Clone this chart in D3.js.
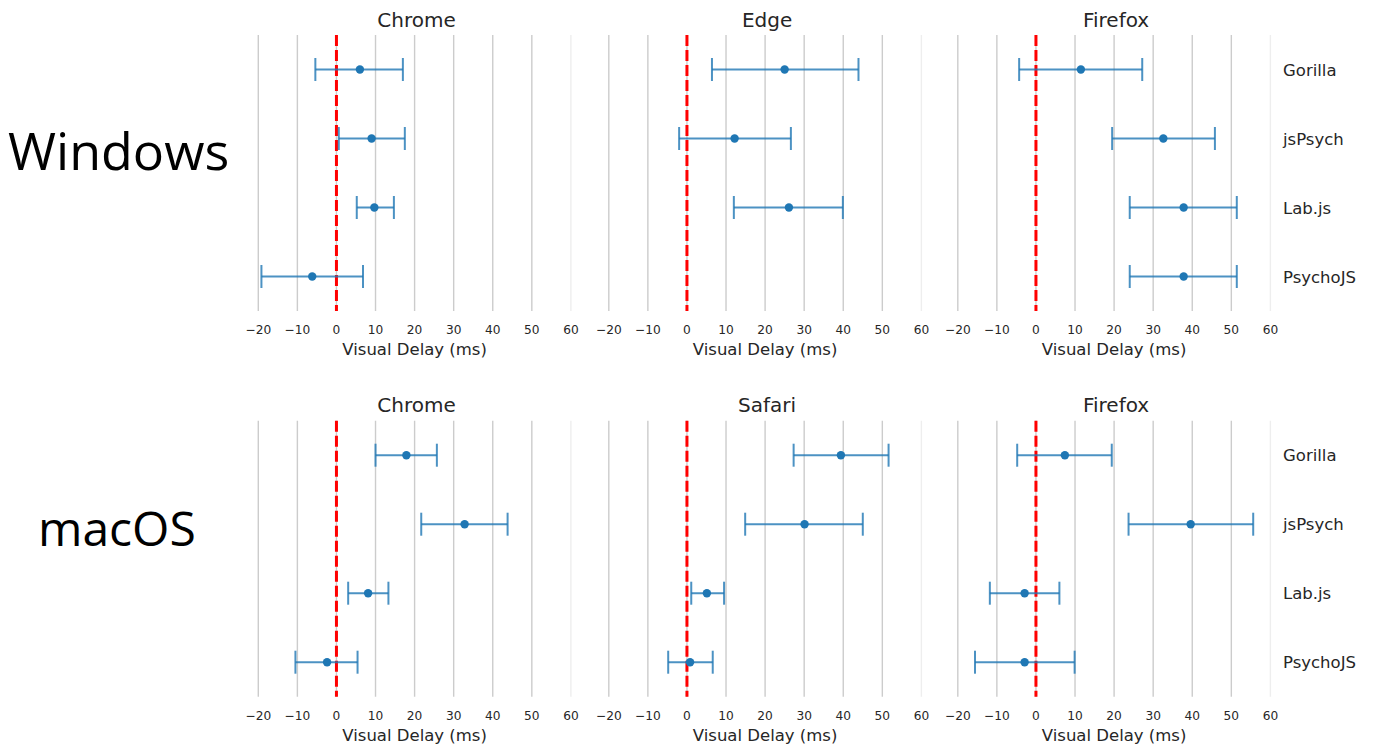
<!DOCTYPE html>
<html>
<head>
<meta charset="utf-8">
<script src="https://cdn.jsdelivr.net/npm/d3@7"></script>
<style>
  body { margin: 0; background: #fff; }
  svg { display: block; }
</style>
</head>
<body>
<svg id="chart" width="1376" height="747"></svg>
<script>
// tools, one row per panel
var tools = ['Gorilla', 'jsPsych', 'Lab.js', 'PsychoJS']
var xTicks = [-20, -10, 0, 10, 20, 30, 40, 50, 60]
var osNames = ['Windows', 'macOS']
var winBrowsers = ['Chrome', 'Edge', 'Firefox']
var macBrowsers = ['Chrome', 'Safari', 'Firefox']

// point estimate and interval ends (ms); null = not tested
var winChromeMean = [6.0, 9.0, 9.7, -6.2]
var winChromeLow = [-5.4, 0.6, 5.2, -19.2]
var winChromeHigh = [17.0, 17.5, 14.7, 6.8]

var winEdgeMean = [25.0, 12.2, 26.1, null]
var winEdgeLow = [6.4, -2.0, 12.0, null]
var winEdgeHigh = [43.9, 26.6, 39.9, null]

var winFirefoxMean = [11.5, 32.6, 37.8, 37.8]
var winFirefoxLow = [-4.3, 19.5, 24.0, 24.0]
var winFirefoxHigh = [27.2, 45.8, 51.4, 51.4]

var macChromeMean = [17.9, 32.8, 8.1, -2.4]
var macChromeLow = [10.0, 21.7, 3.0, -10.5]
var macChromeHigh = [25.7, 43.8, 13.3, 5.4]

var macSafariMean = [39.4, 30.1, 5.1, 0.8]
var macSafariLow = [27.3, 14.9, 1.1, -4.8]
var macSafariHigh = [51.6, 45.0, 9.5, 6.6]

var macFirefoxMean = [7.4, 39.6, -2.9, -2.9]
var macFirefoxLow = [-4.8, 23.7, -11.8, -15.6]
var macFirefoxHigh = [19.4, 55.6, 6.0, 9.9]

var panels = [
  { row: 0, col: 0, title: winBrowsers[0], mean: winChromeMean, low: winChromeLow, high: winChromeHigh },
  { row: 0, col: 1, title: winBrowsers[1], mean: winEdgeMean, low: winEdgeLow, high: winEdgeHigh },
  { row: 0, col: 2, title: winBrowsers[2], mean: winFirefoxMean, low: winFirefoxLow, high: winFirefoxHigh },
  { row: 1, col: 0, title: macBrowsers[0], mean: macChromeMean, low: macChromeLow, high: macChromeHigh },
  { row: 1, col: 1, title: macBrowsers[1], mean: macSafariMean, low: macSafariLow, high: macSafariHigh },
  { row: 1, col: 2, title: macBrowsers[2], mean: macFirefoxMean, low: macFirefoxLow, high: macFirefoxHigh }
]

var colLeft = [258.3, 608.8, 957.8]
var panelWidth = 312.6
var rowTop = [35, 420.7]
var panelHeight = 276
var textColor = '#262626'
var blue = '#1f77b4'
var font = 'DejaVu Sans, sans-serif'

var svg = d3.select('#chart')

// big OS labels on the left
svg.append('text')
  .attr('x', 8).attr('y', 170)
  .attr('font-family', 'Open Sans, sans-serif')
  .attr('font-size', 52)
  .attr('fill', '#000')
  .text(osNames[0])
svg.append('text')
  .attr('x', 38).attr('y', 546)
  .attr('font-family', 'Open Sans, sans-serif')
  .attr('font-size', 48)
  .attr('fill', '#000')
  .text(osNames[1])

panels.forEach(function (p) {
  var x0 = colLeft[p.col]
  var y0 = rowTop[p.row]
  var x = d3.scaleLinear().domain([-20, 60]).range([x0, x0 + panelWidth])
  var y = d3.scalePoint().domain(tools).range([y0, y0 + panelHeight]).padding(0.5)
  var g = svg.append('g').attr('class', 'panel')

  // vertical grid
  g.selectAll('.grid').data(xTicks).enter().append('line')
    .attr('class', 'grid')
    .attr('x1', function (d) { return x(d) })
    .attr('x2', function (d) { return x(d) })
    .attr('y1', y0).attr('y2', y0 + panelHeight)
    .attr('stroke', function (d) { return d === 60 ? '#eeeeee' : '#cccccc' })
    .attr('stroke-width', 1.4)

  // tick labels
  g.selectAll('.tick').data(xTicks).enter().append('text')
    .attr('class', 'tick')
    .attr('x', function (d) { return x(d) })
    .attr('y', y0 + panelHeight + 23)
    .attr('text-anchor', 'middle')
    .attr('font-family', font)
    .attr('font-size', 12.2)
    .attr('fill', textColor)
    .text(d3.format('d'))

  g.append('text')
    .attr('x', x0 + panelWidth / 2)
    .attr('y', y0 + panelHeight + 44)
    .attr('text-anchor', 'middle')
    .attr('font-family', font)
    .attr('font-size', 16.5)
    .attr('fill', textColor)
    .text('Visual Delay (ms)')

  g.append('text')
    .attr('x', x0 + panelWidth / 2 + 2)
    .attr('y', y0 - 8.5)
    .attr('text-anchor', 'middle')
    .attr('font-family', font)
    .attr('font-size', 20)
    .attr('fill', textColor)
    .text(p.title)

  // zero reference
  g.append('line')
    .attr('x1', x(0)).attr('x2', x(0))
    .attr('y1', y0).attr('y2', y0 + panelHeight)
    .attr('stroke', '#ff0000')
    .attr('stroke-width', 3)
    .attr('stroke-dasharray', '11,4')

  var rows = tools.map(function (t, i) {
    return { tool: t, mean: p.mean[i], low: p.low[i], high: p.high[i] }
  }).filter(function (d) { return d.mean !== null })

  var bars = g.selectAll('.bar').data(rows).enter().append('g')
    .attr('class', 'bar')
    .attr('stroke', blue)
    .attr('stroke-opacity', 0.8)
    .attr('stroke-width', 2)
  bars.append('line')
    .attr('x1', function (d) { return x(d.low) })
    .attr('x2', function (d) { return x(d.high) })
    .attr('y1', function (d) { return y(d.tool) })
    .attr('y2', function (d) { return y(d.tool) })
  bars.append('line')
    .attr('x1', function (d) { return x(d.low) })
    .attr('x2', function (d) { return x(d.low) })
    .attr('y1', function (d) { return y(d.tool) - 11.5 })
    .attr('y2', function (d) { return y(d.tool) + 11.5 })
  bars.append('line')
    .attr('x1', function (d) { return x(d.high) })
    .attr('x2', function (d) { return x(d.high) })
    .attr('y1', function (d) { return y(d.tool) - 11.5 })
    .attr('y2', function (d) { return y(d.tool) + 11.5 })

  g.selectAll('.dot').data(rows).enter().append('circle')
    .attr('class', 'dot')
    .attr('cx', function (d) { return x(d.mean) })
    .attr('cy', function (d) { return y(d.tool) })
    .attr('r', 4.2)
    .attr('fill', blue)

  // tool names on the right of the last column
  if (p.col === 2) {
    g.selectAll('.tool').data(tools).enter().append('text')
      .attr('class', 'tool')
      .attr('x', 1283)
      .attr('y', function (d) { return y(d) + 6 })
      .attr('font-family', font)
      .attr('font-size', 16.5)
      .attr('fill', textColor)
      .text(function (d) { return d })
  }
})
</script>
</body>
</html>
